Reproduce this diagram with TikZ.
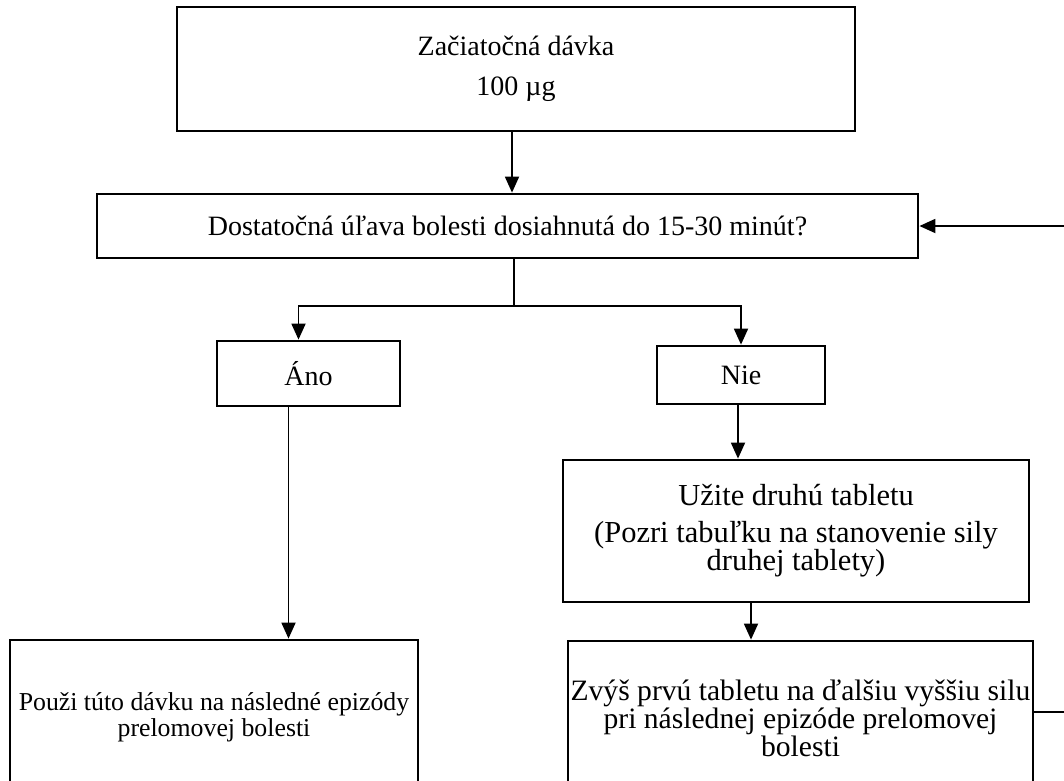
\documentclass[tikz,border=0pt]{standalone}
\usepackage{fontspec}
\setmainfont{Liberation Serif}
\usetikzlibrary{arrows.meta}
\begin{document}
\begin{tikzpicture}[x=1pt,y=-1pt,line join=miter,>={Triangle[length=16pt,width=14pt]},line width=1.8pt]
	\tikzset{box/.style={draw,line width=2.8pt,align=center,inner sep=0pt,font=\fontsize{28}{26.5}\selectfont},
		size/.style={font=\fontsize{#1}{26.5}\selectfont}}
	\useasboundingbox (0,0) rectangle (1064,780);
	\clip (0,0) rectangle (1064,780);
	% boxes
	\node[box,minimum width=678,minimum height=124] (start) at (516,69) {Začiatočná dávka\\[13pt]100 µg};
	\node[box,minimum width=821,minimum height=64] (query) at (507.5,226) {Dostatočná úľava bolesti dosiahnutá do 15-30 minút?};
	\node[box,minimum width=183,minimum height=65] (yes) at (308.5,373.5) {Áno};
	\node[box,minimum width=168,minimum height=58] (no) at (741,375) {Nie};
	\node[box,size=30.5,minimum width=466,minimum height=142] (take) at (796,531) {Užite druhú tabletu\\[10pt](Pozri tabuľku na stanovenie sily\\druhej tablety)};
	\node[box,size=25.8,minimum width=408,minimum height=155] (reuse) at (214,717.5) {Použi túto dávku na následné epizódy\\prelomovej bolesti};
	\node[box,size=29.6,minimum width=465,minimum height=154] (raise) at (800.5,718) {Zvýš prvú tabletu na ďalšiu vyššiu silu\\pri následnej epizóde prelomovej\\bolesti};
	% connectors
	\coordinate (split) at (514,306);
	\draw[->] ([xshift=-4pt]start.south) -- ([xshift=-4pt]start.south |- query.north);
	\draw (query.south -| split) -- (split);
	\draw[->] (split) -| ([xshift=-10pt]yes.north);
	\draw[->] (split) -| (no.north);
	\draw[->] ([xshift=-20pt]yes.south) -- ([xshift=-20pt]yes.south |- reuse.north);
	\draw[->] ([xshift=-3pt]no.south) -- ([xshift=-3pt]no.south |- take.north);
	\draw[->] ([xshift=-45pt]take.south) -- ([xshift=-45pt]take.south |- raise.north);
	\draw[->] ([yshift=6pt]raise.east) -- ++(40,0) |- (query.east);
\end{tikzpicture}
\end{document}
